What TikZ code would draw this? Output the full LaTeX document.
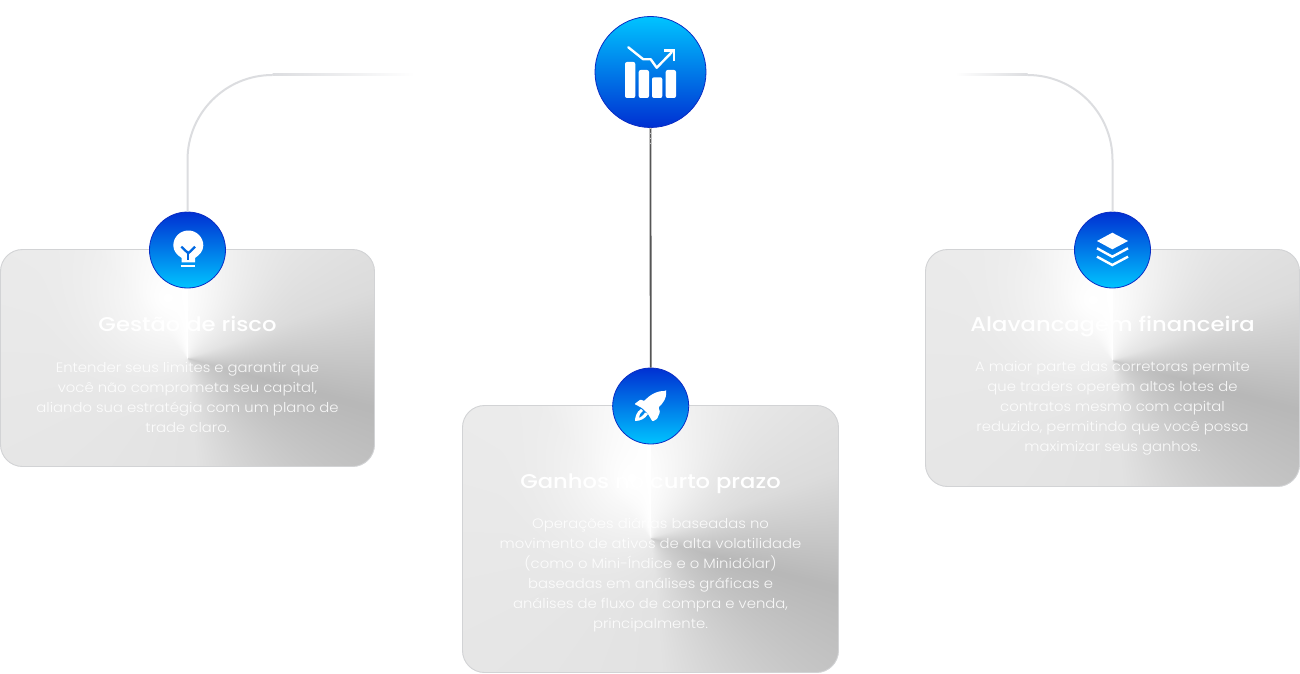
\documentclass[tikz,border=0pt]{standalone}
\usepackage{fontspec}
\newfontfamily\headf{Poppins}[UprightFont=* Medium,FakeStretch=1.14]
\newfontfamily\bodyf{Poppins}[UprightFont=* Light,FakeStretch=1.09]
\definecolor{deepblue}{HTML}{0030D2}
\definecolor{skyblue}{HTML}{00C4FF}
\definecolor{rimblue}{HTML}{0A2CC4}
\definecolor{arcgray}{HTML}{DCDDE0}
\definecolor{cardrim}{HTML}{D2D3D5}
\definecolor{iconblue}{HTML}{0068E2}
\definecolor{stemgray}{HTML}{555555}
% conic gradient (clockwise from north) lightened by a soft round highlight
\pgfdeclarefunctionalshading{conicgray}{\pgfpoint{-500bp}{-500bp}}{\pgfpoint{500bp}{500bp}}{}{
  2 copy
  60 sub dup mul exch 20 add dup mul add sqrt
  135 div 1 exch sub dup 0 lt { pop 0 } if dup mul
  3 1 roll
  atan
  dup 105 lt
  { dup 70 lt
    { 70 div 0.86 0.96 sub mul 0.96 add }
    { 70 sub 35 div 0.72 0.86 sub mul 0.86 add }
    ifelse }
  { dup 175 lt
    { dup 130 lt
      { 105 sub 25 div 0.775 0.72 sub mul 0.72 add }
      { 130 sub 45 div 0.885 0.775 sub mul 0.775 add }
      ifelse }
    { dup 320 lt
      { 175 sub 145 div 0.925 0.885 sub mul 0.885 add }
      { 320 sub 40 div 1.0 0.925 sub mul 0.925 add }
      ifelse }
    ifelse }
  ifelse
  1 exch sub exch 1 exch sub mul 1 exch sub
  dup dup
}
\tikzset{
  hub/.style={circle,draw=rimblue,line width=.8pt,minimum size=#1,inner sep=0pt},
  arcline/.style={draw=arcgray,line width=2pt},
  title/.style={text=white,font=\headf\fontsize{19.9}{25}\selectfont,align=center,inner sep=0pt,anchor=base},
  body/.style={text=white,opacity=.88,font=\bodyf\fontsize{13.6}{20}\selectfont,align=center,inner sep=0pt},
  iconfill/.style={fill=white,draw=none},
  iconline/.style={draw=white,line width=2.4pt},
  cardedge/.style={draw=cardrim,line width=.9pt,rounded corners=22pt},
  conicimg/.style={inner sep=0pt,outer sep=0pt}
}
\begin{document}
\begin{tikzpicture}[x=1pt,y=-1pt]
\useasboundingbox (0,0) rectangle (1300,674);
\fill[white] (0,0) rectangle (1300,674);

\coordinate (leftEnd) at (415,75);
\coordinate (leftBend) at (272.5,75);
\coordinate (rightEnd) at (955,75);
\coordinate (rightBend) at (1027.5,75);
\coordinate (midL) at (187.5,250);
\coordinate (midC) at (650.7,406);
\coordinate (midR) at (1112.5,250);
\coordinate (stemTick) at (650.7,144);

% cards
\begin{scope}
\clip[rounded corners=22pt] (.5,249.5) rectangle (374.5,466.5);
\node[conicimg] (shadeL) at (187,358) {\pgfuseshading{conicgray}};
\end{scope}
\draw[cardedge] (.5,249.5) rectangle (374.5,466.5);
\begin{scope}
\clip[rounded corners=22pt] (462.5,405.5) rectangle (838.5,672.5);
\node[conicimg] (shadeC) at (650.5,538) {\pgfuseshading{conicgray}};
\end{scope}
\draw[cardedge] (462.5,405.5) rectangle (838.5,672.5);
\begin{scope}
\clip[rounded corners=22pt] (925.5,249.5) rectangle (1299.5,486.5);
\node[conicimg] (shadeR) at (1112,360) {\pgfuseshading{conicgray}};
\end{scope}
\draw[cardedge] (925.5,249.5) rectangle (1299.5,486.5);

% hub circles
\node[hub=111pt,top color=skyblue,bottom color=deepblue] (top) at (650.5,72) {};
\node[hub=76pt,top color=deepblue,bottom color=skyblue] (hubL) at (midL) {};
\node[hub=76pt,top color=deepblue,bottom color=skyblue] (hubC) at (midC) {};
\node[hub=76pt,top color=deepblue,bottom color=skyblue] (hubR) at (midR) {};

% connectors
\draw[draw=stemgray,line width=1.8pt] (top.south) -- (hubC.north);
\draw[draw=black!25,line width=1.8pt,dash pattern=on 1pt off 4pt] (top.south) -- (stemTick);
\draw[arcline,rounded corners=85pt] (hubL.north) |- (leftBend);
\draw[arcline,rounded corners=85pt] (hubR.north) |- (rightBend);
\shade[left color=arcgray,right color=white] (leftBend|-0,74) rectangle (leftEnd|-0,76);
\shade[left color=white,right color=arcgray] (rightEnd|-0,74) rectangle (rightBend|-0,76);

% chart icon
\foreach \xa/\ya in {625/62,638.7/70,652/77.3,665.7/70}
  \fill[iconfill,rounded corners=2pt] (\xa,\ya) rectangle (\xa+10.3,98);
\draw[iconline,line cap=round,line join=round] (628.3,47.3) -- (643.3,59.3) -- (650.7,59.3) -- (656.7,67.7) -- (671.7,52.3);
\draw[iconline,line join=miter] (664,50.7) -- (674,50.7) -- (674,60.7);

% bulb icon
\fill[iconfill] (181.7,262.3) -- (181.7,258) .. controls (177,255) and (173.3,251) .. (173.3,245.5)
  arc[start angle=180,end angle=360,radius=15] .. controls (203.3,251) and (199.5,255) .. (195,258) -- (195,262.3) -- cycle;
\draw[white,line width=2.2pt] (180.7,266.2) -- (195.3,266.2);
\draw[iconblue,line width=2.3pt] (181.3,246.7) -- (188.3,253.3) -- (195,246.7);
\draw[iconblue,line width=2.3pt] (188.3,253.3) -- (188.3,260);

% rocket icon
\fill[iconfill,rounded corners=.8pt] (666,391) .. controls (656,390.5) and (649,396) .. (644,401)
  -- (640.5,399.5) -- (634.5,404) -- (642,408) -- (648,414) -- (652.5,421.5) -- (657,419) -- (660,412) -- (658.5,407.5)
  .. controls (663,403) and (667,398) .. cycle;
\fill[iconfill] (641,409) .. controls (636,412) and (635,418) .. (635,421)
  .. controls (640,421) and (645,419) .. (648,414) -- (645,412.5) .. controls (643,416) and (641,417) .. (639,418) .. controls (639,415) and (640,413.5) .. (643,411) -- cycle;

% layers icon
\fill[iconfill] (1112.3,232.7) -- (1128,241) -- (1112.3,249.3) -- (1097,241) -- cycle;
\draw[iconline] (1097,248.3) -- (1112.3,256.7) -- (1128,248.3);
\draw[iconline] (1097,256.7) -- (1112.3,265) -- (1128,256.7);

% texts
\node[title] (titleL) at (187.5,331.5) {Gestão de risco};
\node[body] (bodyL) at (187.5,397) {Entender seus limites e garantir que\\você não comprometa seu capital,\\aliando sua estratégia com um plano de\\trade claro.};
\node[title] (titleC) at (650.5,488) {Ganhos no curto prazo};
\node[body] (bodyC) at (650.5,575) {Operações diárias baseadas no\\movimento de ativos de alta volatilidade\\(como o Mini-Índice e o Minidólar)\\baseadas em análises gráficas e\\análises de fluxo de compra e venda,\\principalmente.};
\node[title] (titleR) at (1112.5,331.5) {Alavancagem financeira};
\node[body] (bodyR) at (1112.5,408) {A maior parte das corretoras permite\\que traders operem altos lotes de\\contratos mesmo com capital\\reduzido, permitindo que você possa\\maximizar seus ganhos.};
\end{tikzpicture}
\end{document}
